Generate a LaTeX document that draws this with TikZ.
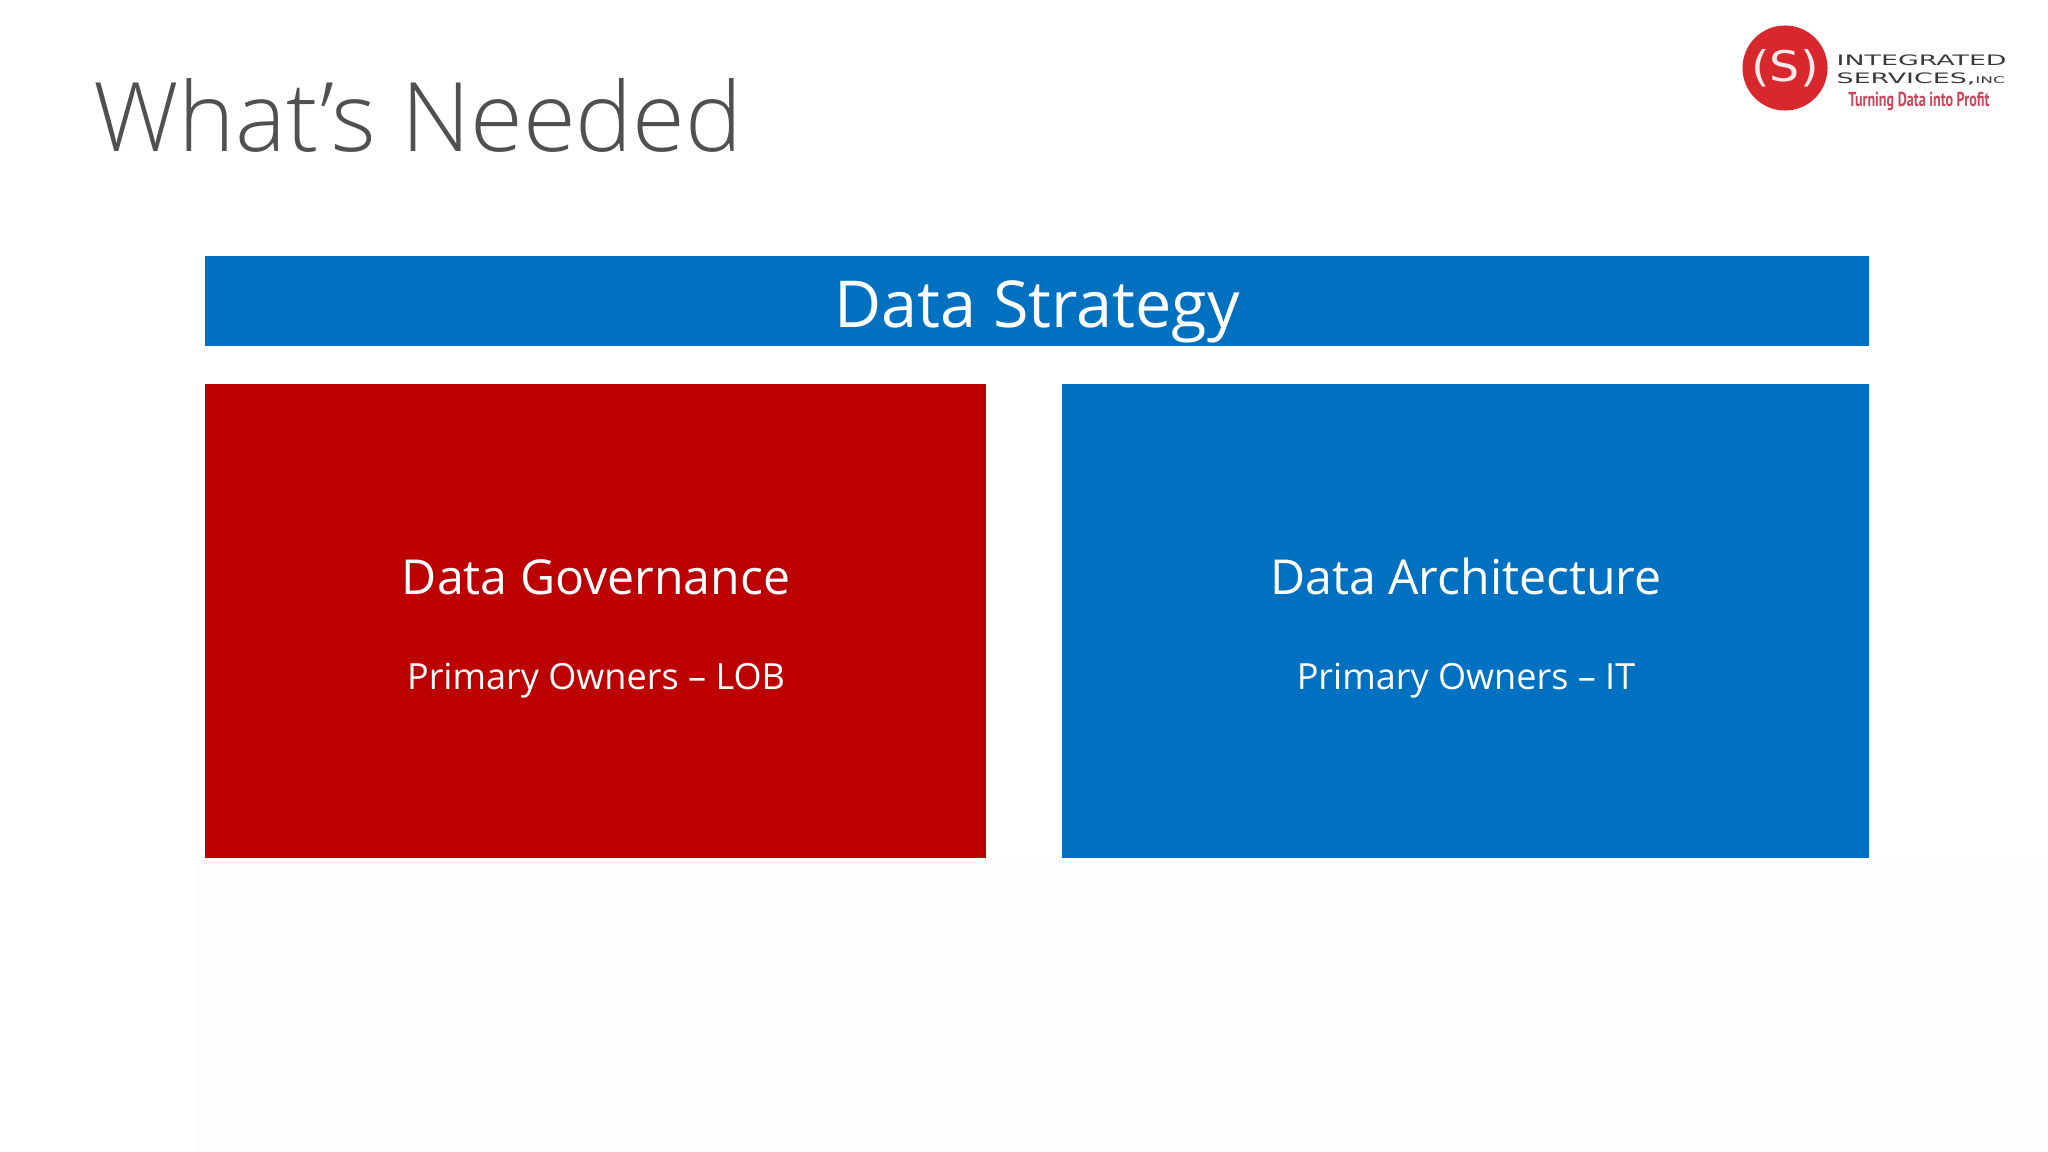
\documentclass[tikz,border=0pt]{standalone}
\usepackage{fontspec}
\setmainfont{Open Sans}
\newfontfamily\lightfont{Open Sans Light}
\newfontfamily\logofont{DejaVu Sans}
\newfontfamily\sloganfont{PT Sans}
\usepackage{tikz}
\usetikzlibrary{positioning}
\definecolor{stratblue}{HTML}{0070C0}
\definecolor{govred}{HTML}{BC0000}
\definecolor{titlegray}{HTML}{505050}
\definecolor{logored}{HTML}{D9272E}
\definecolor{logogray}{HTML}{3A3A3A}
\definecolor{slogan}{HTML}{C8455A}
\definecolor{paper}{HTML}{FDFDFD}
\tikzset{
  panel/.style={inner sep=0pt,outer sep=0pt,anchor=north west},
  heading/.style={text=white,font=\fontsize{13.7pt}{16pt}\selectfont},
  subheading/.style={text=white,font=\fontsize{10.25pt}{13pt}\selectfont},
  logotext/.style={anchor=west,inner sep=0pt,align=left,text=logogray,font=\logofont\fontsize{4.1pt}{4.6pt}\selectfont},
}
\begin{document}
\begin{tikzpicture}[x=0.01cm,y=-0.01cm]
\useasboundingbox (0,0) rectangle (2048,1152);
\fill[white] (0,0) rectangle (2048,1152);
\fill[paper] (195,860) rectangle (2048,1152);
\node[] (title) at (418,116) {\lightfont\fontsize{27.3pt}{32pt}\selectfont\textcolor{titlegray}{What’s Needed}};
\node[panel,fill=stratblue,minimum width=16.63cm,minimum height=0.9cm] (strategy) at (205,256) {};
\node[panel,fill=govred,minimum width=7.81cm,minimum height=4.74cm] (gov) at (205,384) {};
\node[panel,fill=stratblue,minimum width=8.07cm,minimum height=4.74cm] (arch) at (1062,384) {};
\node[text=white,font=\fontsize{18.4pt}{20pt}\selectfont] (strategylabel) at (1037,312) {Data Strategy};
\node[heading] (govlabel) at (596,577) {Data Governance};
\node[subheading] (govowner) at (596,681) {Primary Owners – LOB};
\node[heading] (archlabel) at (1466,576) {Data Architecture};
\node[subheading] (archowner) at (1466,681) {Primary Owners – IT};
% logo
\node[circle,fill=logored,minimum size=0.85cm,inner sep=0pt] (badge) at (1785,68) {\logofont\fontsize{10pt}{11pt}\selectfont\textcolor{white!90!logored}{\scalebox{1.35}[1.2]{(S)}}};
\node[logotext] (logoname) at (1836,70) {\scalebox{1.86}[1]{INTEGRATED}\\[0.5pt]\scalebox{1.86}[1]{SERVICES,\fontsize{2.6pt}{4pt}\selectfont INC}};
\node[inner sep=0pt,text=slogan,font=\sloganfont\bfseries\fontsize{4.6pt}{5pt}\selectfont] (logoslogan) at (1919,101) {\scalebox{0.87}[1.25]{Turning Data into Profit}};
\end{tikzpicture}
\end{document}
